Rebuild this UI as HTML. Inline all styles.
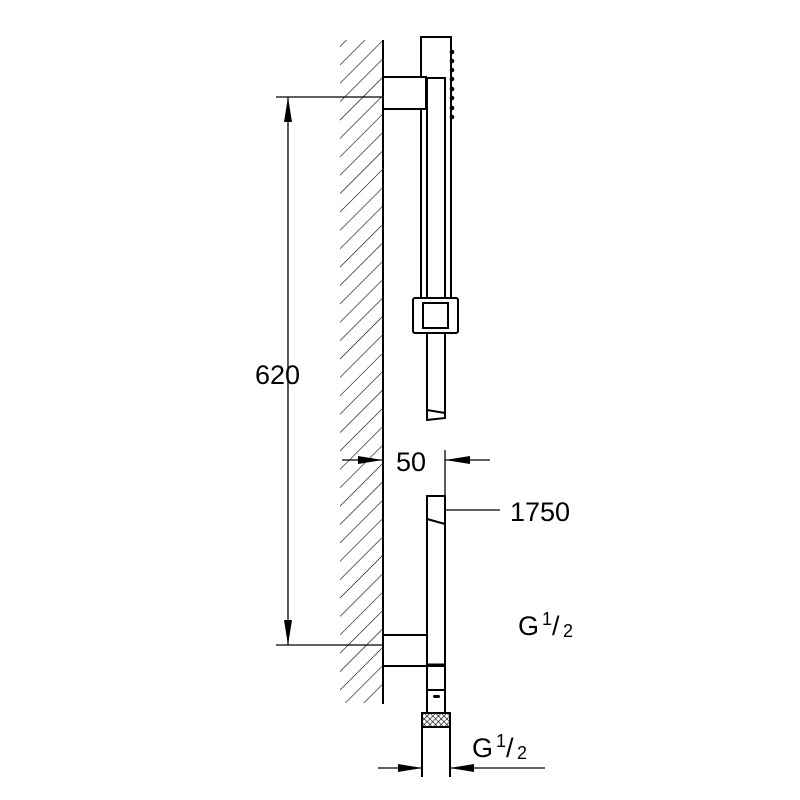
<!DOCTYPE html>
<html><head><style>body{margin:0;background:#fff}svg{display:block}</style></head><body>
<svg width="800" height="800" viewBox="0 0 800 800" xmlns="http://www.w3.org/2000/svg">
<defs>
<pattern id="h" width="13" height="13" patternUnits="userSpaceOnUse" patternTransform="rotate(45)">
<line x1="0" y1="0" x2="0" y2="13" stroke="#000" stroke-width="1.2"/>
</pattern>
<pattern id="k" width="4" height="4" patternUnits="userSpaceOnUse" patternTransform="rotate(45)">
<rect width="4" height="4" fill="#fff"/><line x1="0" y1="0" x2="0" y2="4" stroke="#000" stroke-width="1.2"/><line x1="0" y1="0" x2="4" y2="0" stroke="#000" stroke-width="1.2"/>
</pattern>
</defs>
<rect x="340" y="40" width="43" height="663" fill="url(#h)"/>
<g fill="none" stroke="#000" stroke-width="2">
<line x1="383" y1="40" x2="383" y2="704"/>
<rect x="421" y="37" width="30" height="261" fill="#fff"/>
<rect x="383" y="77" width="43" height="32" fill="#fff"/>
<line x1="421" y1="109" x2="421" y2="298"/>
<rect x="427" y="78" width="18" height="220" fill="#fff"/>
<rect x="413" y="298" width="45" height="35" rx="2" fill="#fff"/>
<rect x="423" y="303" width="25" height="25"/>
<path d="M427 333 V420 L445 418 V333"/>
<line x1="427" y1="410" x2="445" y2="413"/>
<rect x="383" y="635" width="44" height="31" fill="#fff"/>
<path d="M427 666 V496 H445 V666 Z" fill="#fff"/>
<line x1="427" y1="519" x2="445" y2="524"/>
<line x1="427" y1="665" x2="445" y2="665" stroke-width="3"/>
<rect x="427" y="666" width="18" height="24"/>
<rect x="427" y="690" width="18" height="23"/>
<rect x="422" y="713" width="28" height="14" fill="url(#k)"/>
<line x1="422" y1="727" x2="422" y2="777"/>
<line x1="450" y1="727" x2="450" y2="777"/>
</g>
<g fill="#000">
<circle cx="452" cy="52" r="2.3"/><circle cx="452" cy="61" r="2.3"/><circle cx="452" cy="70" r="2.3"/><circle cx="452" cy="79" r="2.3"/><circle cx="452" cy="89" r="2.3"/><circle cx="452" cy="98" r="2.3"/><circle cx="452" cy="108" r="2.3"/><circle cx="452" cy="117" r="2.3"/>
<rect x="433" y="695" width="7" height="3" rx="1.5"/>
</g>
<g stroke="#000" stroke-width="1.3" fill="none">
<line x1="276" y1="97" x2="383" y2="97"/>
<line x1="276" y1="645" x2="383" y2="645"/>
<line x1="288" y1="97" x2="288" y2="645"/>
<line x1="342" y1="460" x2="383" y2="460"/>
<line x1="445" y1="450" x2="445" y2="496"/>
<line x1="445" y1="460" x2="490" y2="460"/>
<line x1="445" y1="510" x2="500" y2="510"/>
<line x1="378" y1="768" x2="422" y2="768"/>
<line x1="450" y1="768" x2="545" y2="768"/>
</g>
<g fill="#000">
<polygon points="288,97 284,122 292,122"/>
<polygon points="288,645 284,620 292,620"/>
<polygon points="383,460 358,456 358,464"/>
<polygon points="445,460 470,456 470,464"/>
<polygon points="422,768 398,764 398,772"/>
<polygon points="450,768 474,764 474,772"/>
</g>
<g font-family="Liberation Sans, sans-serif" fill="#000">
<text x="255" y="384" font-size="27">620</text>
<text x="396" y="471" font-size="27">50</text>
<text x="510" y="521" font-size="27">1750</text>
<text x="518" y="635" font-size="27">G</text><text x="542" y="625" font-size="18">1</text><text x="552" y="635" font-size="27">/</text><text x="563" y="637" font-size="18">2</text>
<text x="472" y="757" font-size="27">G</text><text x="496" y="747" font-size="18">1</text><text x="506" y="757" font-size="27">/</text><text x="517" y="759" font-size="18">2</text>
</g>
</svg>
</body></html>
